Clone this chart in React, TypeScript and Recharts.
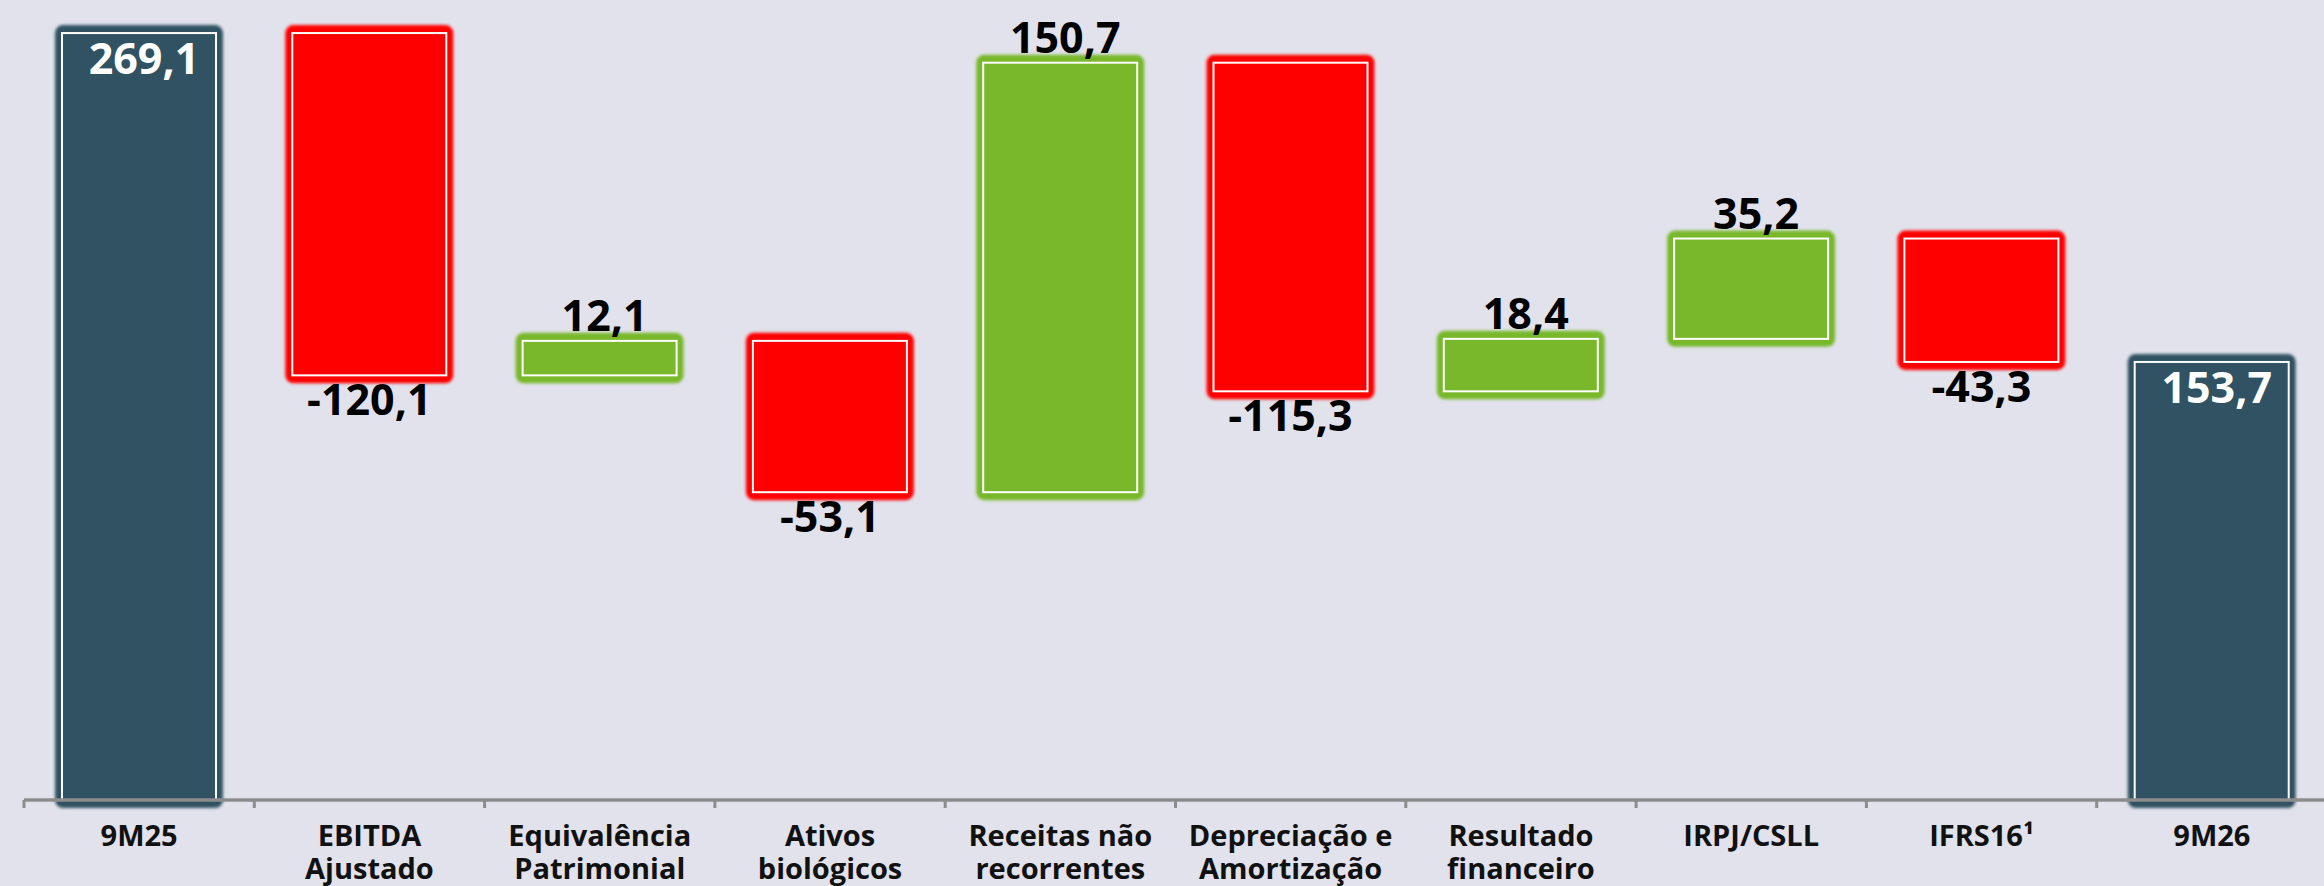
import React from 'react';
import { BarChart, Bar, XAxis, YAxis } from 'recharts';

const categories = [
  '9M25', 'EBITDA\nAjustado', 'Equivalência\nPatrimonial', 'Ativos\nbiológicos', 'Receitas não\nrecorrentes',
  'Depreciação e\nAmortização', 'Resultado\nfinanceiro', 'IRPJ/CSLL', 'IFRS16¹', '9M26',
];
const values = [269.1, -120.1, 12.1, -53.1, 150.7, -115.3, 18.4, 35.2, -43.3, 153.7];
const kinds = ['total', 'delta', 'delta', 'delta', 'delta', 'delta', 'delta', 'delta', 'delta', 'total'];

const W = 2328;
const H = 886;
const M = { top: 2, right: 1, bottom: 0, left: 24 };
const BAND = (W - M.left - M.right) / categories.length;

const C_TOTAL = '#305262';
const C_UP = '#78B82A';
const C_DOWN = '#FF0000';
const AXIS = '#8c8c8c';
const FONT = '"Open Sans", "DejaVu Sans", sans-serif';

// waterfall: build floating ranges from the running total
let running = 0;
const data = categories.map((name, i) => {
  const v = values[i];
  let range: [number, number];
  if (kinds[i] === 'total') {
    range = [0, v];
    running = v;
  } else {
    const next = running + v;
    range = [Math.min(running, next), Math.max(running, next)];
    running = next;
  }
  return { name, value: v, kind: kinds[i], range };
});

const fmt = (v: number) => v.toFixed(1).replace('.', ',');

// eslint-disable-next-line @typescript-eslint/no-explicit-any
function WaterfallBar(props: any) {
  const { x, y, width, height, payload, index } = props;
  const kind = payload.kind;
  const color = kind === 'total' ? C_TOTAL : payload.value >= 0 ? C_UP : C_DOWN;
  const id = `glow-${index}`;
  const cx = x + width / 2;

  let label = null;
  if (kind === 'total') {
    label = (
      <text x={cx + 5} y={y + 41} textAnchor="middle" fill="#fff" fontSize={43} fontWeight={700} fontFamily={FONT}>
        {fmt(payload.value)}
      </text>
    );
  } else if (payload.value >= 0) {
    label = (
      <text x={cx + 5} y={y - 10} textAnchor="middle" fill="#000" fontSize={43} fontWeight={700} fontFamily={FONT}>
        {fmt(payload.value)}
      </text>
    );
  } else {
    label = (
      <text x={cx} y={y + height + 40} textAnchor="middle" fill="#000" fontSize={43} fontWeight={700} fontFamily={FONT}>
        {fmt(payload.value)}
      </text>
    );
  }

  return (
    <g>
      <defs>
        <filter id={id} x="-10%" y="-10%" width="120%" height="120%">
          <feGaussianBlur stdDeviation={1.6} />
        </filter>
      </defs>
      <rect x={x} y={y - 8} width={width} height={height + 16} rx={8} fill={color} filter={`url(#${id})`} />
      <rect x={x + 3} y={y - 5} width={width - 6} height={height + 10} rx={4} fill={color} />
      <rect x={x + 7} y={y} width={width - 14} height={height} fill="none" stroke="#fff" strokeWidth={2} />
      {label}
    </g>
  );
}

// eslint-disable-next-line @typescript-eslint/no-explicit-any
function CategoryTick(props: any) {
  const { x, y, payload } = props;
  const lines = String(payload.value).split('\n');
  const left = x - BAND / 2;
  return (
    <g>
      <line x1={left} x2={left} y1={y} y2={y + 8} stroke={AXIS} strokeWidth={3} />
      <text x={x} y={y} textAnchor="middle" fill="#111" fontSize={29} fontWeight={700} fontFamily={FONT}>
        {lines.map((l, i) => (
          <tspan key={i} x={x} dy={i === 0 ? 46 : 33}>{l}</tspan>
        ))}
      </text>
    </g>
  );
}

export default function App() {
  return (
    <div
      style={{
        position: 'absolute', left: 0, top: 0, width: 2324, height: H,
        overflow: 'hidden', background: '#E1E2EC', fontFamily: FONT,
      }}
    >
      <BarChart width={W} height={H} data={data} margin={M}>
        <YAxis hide domain={[0, 280]} />
        <Bar dataKey="range" barSize={168} shape={<WaterfallBar />} isAnimationActive={false} />
        <XAxis
          dataKey="name"
          interval={0}
          height={86}
          tickSize={0}
          tickMargin={0}
          tickLine={false}
          axisLine={{ stroke: AXIS, strokeWidth: 3.5 }}
          tick={<CategoryTick />}
        />
      </BarChart>
    </div>
  );
}
